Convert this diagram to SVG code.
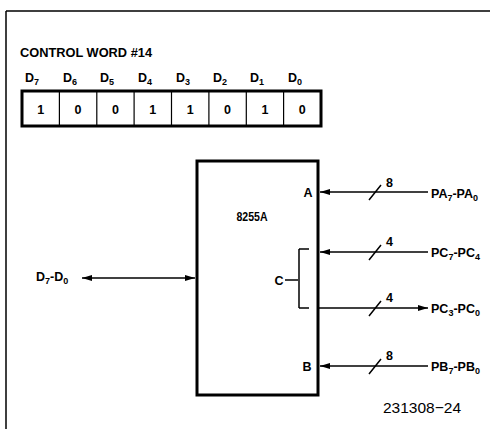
<svg xmlns="http://www.w3.org/2000/svg" width="492" height="429" viewBox="0 0 492 429">
<style>
text{font-family:"Liberation Sans",Arial,sans-serif;font-weight:bold;fill:#000;font-size:12.5px}
.s{font-size:9px}
.ln{stroke:#000;stroke-width:1.5;fill:none}
.thk{stroke:#000;stroke-width:3;fill:none}
.cell{stroke:#000;stroke-width:1.2}
</style>
<defs>
<marker id="ah" viewBox="0 0 10 6" refX="10" refY="3" markerWidth="10" markerHeight="6" markerUnits="userSpaceOnUse" orient="auto-start-reverse">
<path d="M0,0 L10,3 L0,6 Z" fill="#000"/>
</marker>
</defs>
<g id="frame">
<path class="ln" d="M6,11 H490 M6,11 V429"/>
</g>
<g id="control-word">
<text x="20" y="57" textLength="132" lengthAdjust="spacingAndGlyphs">CONTROL WORD #14</text>
<g id="bit-labels">
<text x="25" y="82">D<tspan class="s" dy="3">7</tspan></text>
<text x="63" y="82">D<tspan class="s" dy="3">6</tspan></text>
<text x="100" y="82">D<tspan class="s" dy="3">5</tspan></text>
<text x="138" y="82">D<tspan class="s" dy="3">4</tspan></text>
<text x="176" y="82">D<tspan class="s" dy="3">3</tspan></text>
<text x="213" y="82">D<tspan class="s" dy="3">2</tspan></text>
<text x="250" y="82">D<tspan class="s" dy="3">1</tspan></text>
<text x="288" y="82">D<tspan class="s" dy="3">0</tspan></text>
</g>
<rect class="thk" x="22" y="91" width="299" height="35"/>
<path class="cell" d="M59.4,91 V126 M96.8,91 V126 M134.1,91 V126 M171.5,91 V126 M208.9,91 V126 M246.3,91 V126 M283.6,91 V126"/>
<g text-anchor="middle">
<text x="40.7" y="114">1</text>
<text x="78.1" y="114">0</text>
<text x="115.5" y="114">0</text>
<text x="152.8" y="114">1</text>
<text x="190.2" y="114">1</text>
<text x="227.6" y="114">0</text>
<text x="265" y="114">1</text>
<text x="302.3" y="114">0</text>
</g>
</g>
<g id="chip-8255A">
<rect class="thk" x="197" y="161" width="121" height="234"/>
<text x="252" y="221" text-anchor="middle" textLength="31" lengthAdjust="spacingAndGlyphs">8255A</text>
<text x="308" y="197" text-anchor="middle">A</text>
<text x="307" y="371" text-anchor="middle">B</text>
<text x="279" y="285" text-anchor="middle">C</text>
<path class="ln" d="M285,280 H298 M299,249 V308 M299,249 H309 M299,308 H309" stroke-width="1.2"/>
</g>
<g id="labels">
<text x="36" y="281">D<tspan class="s" dy="3">7</tspan><tspan dy="-3">-D</tspan><tspan class="s" dy="3">0</tspan></text>
<text x="431" y="198">PA<tspan class="s" dy="3">7</tspan><tspan dy="-3">-PA</tspan><tspan class="s" dy="3">0</tspan></text>
<text x="431" y="257">PC<tspan class="s" dy="3">7</tspan><tspan dy="-3">-PC</tspan><tspan class="s" dy="3">4</tspan></text>
<text x="431" y="313">PC<tspan class="s" dy="3">3</tspan><tspan dy="-3">-PC</tspan><tspan class="s" dy="3">0</tspan></text>
<text x="431" y="371">PB<tspan class="s" dy="3">7</tspan><tspan dy="-3">-PB</tspan><tspan class="s" dy="3">0</tspan></text>
<text x="386" y="187">8</text>
<text x="386" y="246">4</text>
<text x="386" y="302">4</text>
<text x="386" y="360">8</text>
<text x="383" y="413" style="font-weight:normal;font-size:15.5px">231308−24</text>
</g>
<g id="connectors">
<path class="ln" d="M428,192 H320" marker-end="url(#ah)"/>
<path class="ln" d="M428,252 H320" marker-end="url(#ah)"/>
<path class="ln" d="M318,308 H428" marker-end="url(#ah)"/>
<path class="ln" d="M428,366 H320" marker-end="url(#ah)"/>
<path class="ln" d="M82,278 H195" marker-start="url(#ah)" marker-end="url(#ah)"/>
<path class="ln" d="M369,200 L381,185 M369,260 L381,245 M369,316 L381,301 M369,374 L381,359"/>
</g>
</svg>
